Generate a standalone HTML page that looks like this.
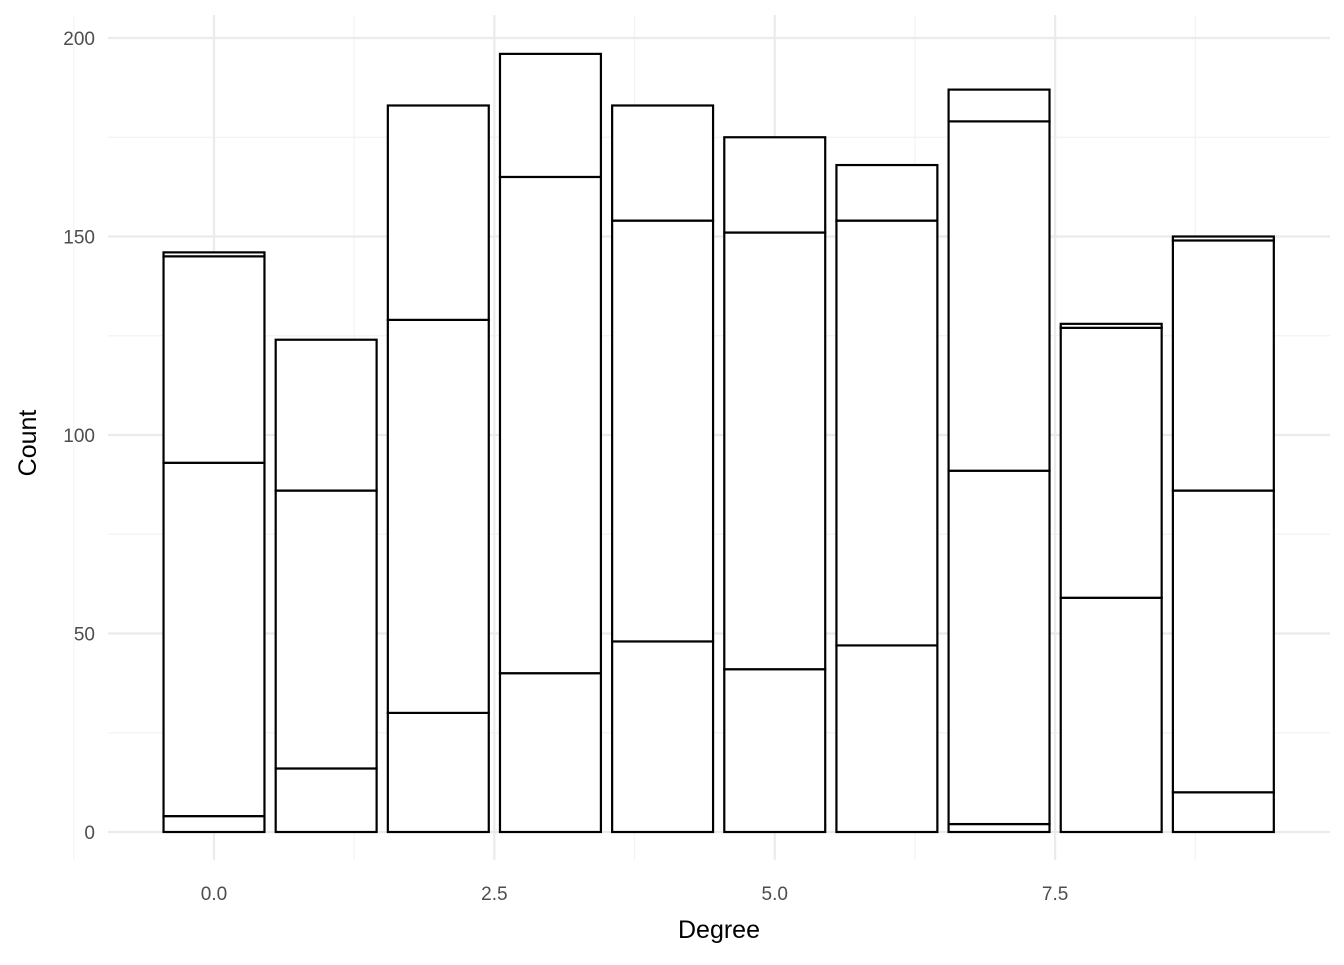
<!DOCTYPE html>
<html><head><meta charset="utf-8"><style>
body{margin:0;background:#fff}
svg text{font-family:"Liberation Sans","DejaVu Sans",sans-serif}
</style></head><body>
<svg id="chart" width="1344" height="960" xmlns="http://www.w3.org/2000/svg">
<g id="grid"></g>
<g id="bars"></g>
<g id="axes"></g>
<text x="719" y="938" text-anchor="middle" font-size="25" fill="#000">Degree</text>
<text transform="translate(36,443) rotate(-90)" text-anchor="middle" font-size="25" fill="#000">Count</text>
</svg>
<script>
const categories=[0,1,2,3,4,5,6,7,8,9];
const seg1=[4,16,30,40,48,41,47,2,59,10];
const seg2=[89,70,99,125,106,110,107,89,68,76];
const seg3=[52,38,54,31,29,24,14,88,1,63];
const seg4=[1,0,0,0,0,0,0,8,0,1];
const xTicks=[0,2.5,5,7.5];
const xTickLabels=["0.0","2.5","5.0","7.5"];
const yTicks=[0,50,100,150,200];
const NS="http://www.w3.org/2000/svg";
const x=v=>214+(v-0)*112.15;
const y=v=>832-v*3.97;
const L=108,R=1330,T=15,B=860;
function mk(tag,attrs,parent){const e=document.createElementNS(NS,tag);for(const k in attrs)e.setAttribute(k,attrs[k]);parent.appendChild(e);return e;}
const grid=document.getElementById('grid'),bars=document.getElementById('bars'),axes=document.getElementById('axes');
for(let v=25;v<=200;v+=50){const l=mk('line',{x1:L,x2:R,y1:y(v),y2:y(v),stroke:'#f3f3f3','stroke-width':1.2},grid);

}
for(let v=-1.25;v<=10;v+=2.5){const l=mk('line',{x1:x(v),x2:x(v),y1:T,y2:B,stroke:'#f3f3f3','stroke-width':1.2},grid);

}
yTicks.forEach(v=>{const l=mk('line',{x1:L,x2:R,y1:y(v),y2:y(v),stroke:'#ebebeb','stroke-width':2.2},grid);


const t=mk('text',{x:95,y:y(v)+7,'text-anchor':'end','font-size':19,fill:'#4d4d4d'},axes);t.textContent=v;

});
xTicks.forEach((v,i)=>{const l=mk('line',{x1:x(v),x2:x(v),y1:T,y2:B,stroke:'#ebebeb','stroke-width':2.2},grid);


const t=mk('text',{x:x(v),y:900,'text-anchor':'middle','font-size':19,fill:'#4d4d4d'},axes);t.textContent=xTickLabels[i];

});
const series=[seg1,seg2,seg3,seg4];
categories.forEach((c,i)=>{let cum=0;const hw=0.45;
series.forEach((s,si)=>{const v=s[i];if(v<=0)return;
const r=mk('rect',{x:x(c-hw),width:x(c+hw)-x(c-hw),y:y(cum+v),height:y(cum)-y(cum+v),fill:'#fff',stroke:'#000','stroke-width':2.2},bars);


cum+=v;});});
</script>
</body></html>
